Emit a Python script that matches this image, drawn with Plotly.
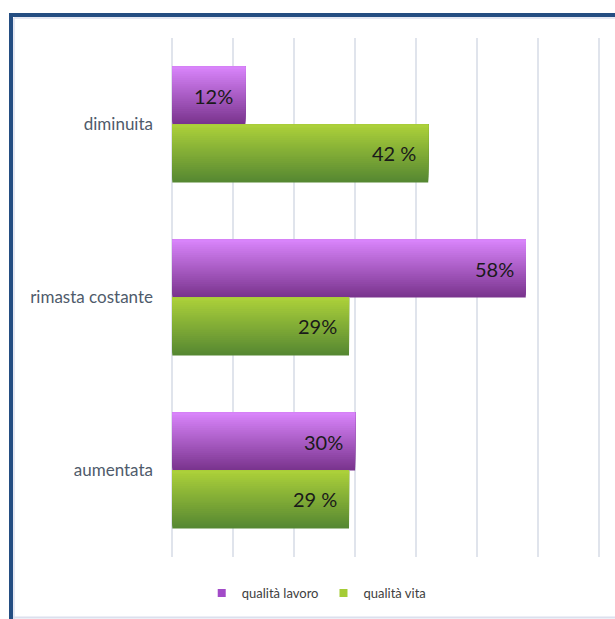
import plotly.graph_objects as go

# ---- data ----
categories = ["aumentata", "rimasta costante", "diminuita"]
series_names = ["qualità lavoro", "qualità vita"]
lavoro = [30, 58, 12]
vita = [29, 29, 42]
lavoro_labels = ["30%", "58%", "12%"]
vita_labels = ["29 %", "29%", "42 %"]

# ---- styling ----
W, H = 615, 619
ML, MR, MT, MB = 172, 14, 38, 62
BAR_H = 0.335
N_STRIPS = 30
purple_top, purple_bot = (216, 132, 250), (122, 52, 142)
green_top, green_bot = (172, 208, 58), (86, 136, 50)
FONT = "Lato"
pw, ph = W - ML - MR, H - MT - MB

def lerp(c1, c2, t):
    return "rgb(%d,%d,%d)" % tuple(round(a + (b - a) * t) for a, b in zip(c1, c2))

fig = go.Figure()
annotations = []

def add_gradient_bar(values, labels, name, top, bot, base_offset, legend_color):
    h = BAR_H / N_STRIPS
    for i in range(N_STRIPS):
        t = i / (N_STRIPS - 1)
        fig.add_trace(go.Bar(
            x=values, y=categories, orientation="h",
            offset=base_offset + i * h, width=BAR_H - i * h,
            marker=dict(color=lerp(bot, top, t), line=dict(width=0)),
            showlegend=False, hoverinfo="skip", legendgroup=name,
        ))
    # value labels, inside the bar end
    yshift = (base_offset + BAR_H / 2) * ph / len(categories)
    for v, c, lab in zip(values, categories, labels):
        annotations.append(dict(
            x=v, y=c, xref="x", yref="y", text=lab, showarrow=False,
            xanchor="right", yanchor="middle", xshift=-10, yshift=yshift,
            font=dict(family=FONT, size=20, color="#1a1a1a"),
        ))
    # legend swatch
    fig.add_trace(go.Scatter(
        x=[None], y=[None], mode="markers", name=name,
        marker=dict(color=legend_color, symbol="square", size=8),
        showlegend=True, legendgroup=name,
    ))

add_gradient_bar(lavoro, lavoro_labels, series_names[0], purple_top, purple_bot, 0.0, "#A24BC8")
add_gradient_bar(vita, vita_labels, series_names[1], green_top, green_bot, -BAR_H, "#A5CC36")

def px_x(p):
    return (p - ML) / pw
def px_y(p):
    return (H - MB - p) / ph

shapes = [
    # light inner lines
    dict(type="line", xref="paper", yref="paper", x0=px_x(14), x1=px_x(640), y0=px_y(18), y1=px_y(18),
         line=dict(color="#DCE0EE", width=1.5)),
    dict(type="line", xref="paper", yref="paper", x0=px_x(14), x1=px_x(14), y0=px_y(18), y1=px_y(640),
         line=dict(color="#DCE0EE", width=1.5)),
    dict(type="line", xref="paper", yref="paper", x0=px_x(13), x1=px_x(640), y0=px_y(617.5), y1=px_y(617.5),
         line=dict(color="#DCE0EE", width=2)),
    # dark blue frame
    dict(type="line", xref="paper", yref="paper", x0=px_x(9), x1=px_x(640), y0=px_y(15), y1=px_y(15),
         line=dict(color="#244E82", width=4)),
    dict(type="line", xref="paper", yref="paper", x0=px_x(11), x1=px_x(11), y0=px_y(13), y1=px_y(640),
         line=dict(color="#244E82", width=4)),
]

fig.update_layout(
    width=W, height=H,
    margin=dict(l=ML, r=MR, t=MT, b=MB),
    paper_bgcolor="white", plot_bgcolor="white",
    barmode="overlay",
    font=dict(family=FONT),
    xaxis=dict(range=[-0.05, 70.35], dtick=10, tick0=0, showticklabels=False, showgrid=True,
               gridcolor="#E0E4EC", gridwidth=2, zeroline=True, zerolinecolor="#E0E4EC",
               zerolinewidth=2, showline=False, ticks=""),
    yaxis=dict(type="category", categoryorder="array", categoryarray=categories,
               range=[-0.5, 2.5], showgrid=False, zeroline=False, showline=False,
               ticks="", ticklabelstandoff=18,
               tickfont=dict(family=FONT, size=17, color="#4F5B6B")),
    legend=dict(orientation="h", xref="container", yref="container",
                x=0.515, xanchor="center", y=1 - 593 / H, yanchor="middle",
                font=dict(family=FONT, size=13, color="#404040"),
                itemwidth=30, traceorder="normal", bgcolor="rgba(0,0,0,0)"),
    annotations=annotations,
    shapes=shapes,
)

fig.write_html("out.html")
